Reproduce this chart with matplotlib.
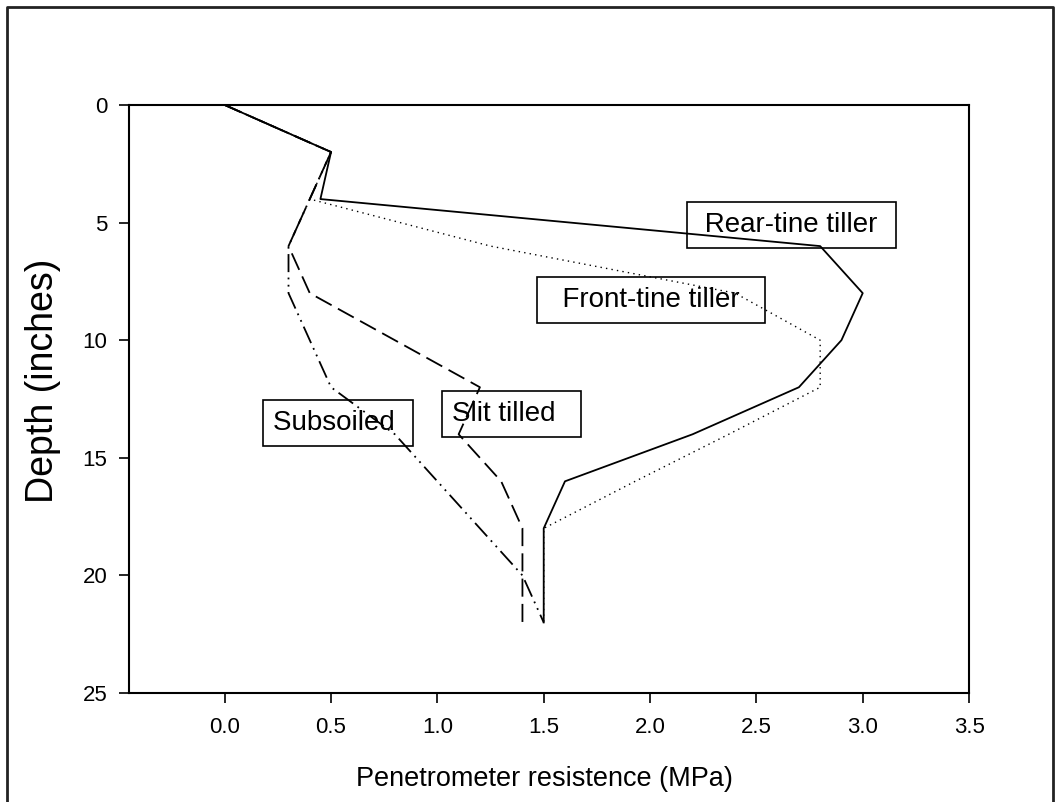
import matplotlib
matplotlib.use('Agg')
import matplotlib.pyplot as plt
from matplotlib.lines import Line2D

plt.rcParams['font.family'] = ['Liberation Sans', 'DejaVu Sans']

# depth in inches, resistance in MPa
depth = [0, 2, 4, 6, 8, 10, 12, 14, 16, 18, 20, 22]
rear_tine = [0.0, 0.5, 0.45, 2.8, 3.0, 2.9, 2.7, 2.2, 1.6, 1.5, 1.5, 1.5]
front_tine = [0.0, 0.5, 0.4, 1.25, 2.4, 2.8, 2.8, 2.37, 1.93, 1.5, 1.5, 1.5]
slit_tilled = [0.0, 0.5, 0.4, 0.3, 0.4, 0.8, 1.2, 1.1, 1.3, 1.4, 1.4, 1.4]
subsoiled = [0.0, 0.5, 0.4, 0.3, 0.3, 0.4, 0.5, 0.8, 1.0, 1.2, 1.4, 1.5]

x_ticks = [0.0, 0.5, 1.0, 1.5, 2.0, 2.5, 3.0, 3.5]
y_ticks = [0, 5, 10, 15, 20, 25]

fig = plt.figure(figsize=(10.6, 8.02), dpi=100)
ax = fig.add_axes([0.1217, 0.1359, 0.7925, 0.7332])

lw = 1.3
ax.plot(rear_tine, depth, color='black', lw=lw, ls='-')
ax.plot(front_tine, depth, color='black', lw=1.0, ls=(0, (1, 3)))
ax.plot(slit_tilled, depth, color='black', lw=lw, ls=(0, (10, 4)))
ax.plot(subsoiled, depth, color='black', lw=lw, ls=(0, (10, 3, 1, 3, 1, 3)))

ax.set_xlim(-0.45, 3.5)
ax.set_ylim(25, 0)
ax.set_xticks(x_ticks)
ax.set_xticklabels(['%.1f' % v for v in x_ticks])
ax.set_yticks(y_ticks)

for sp in ax.spines.values():
    sp.set_linewidth(1.5)
ax.tick_params(axis='both', direction='out', length=7, width=1.2, labelsize=16)
ax.tick_params(axis='x', pad=10)
ax.tick_params(axis='y', pad=8.5)

ax.set_xlabel('Penetrometer resistence (MPa)', fontsize=19.5)
ax.set_ylabel('Depth (inches)', fontsize=27)
ax.xaxis.set_label_coords(0.494, -0.124)
ax.yaxis.set_label_coords(-0.081, 0.531)

# label boxes are see-through, the curves show behind the text
box = dict(boxstyle='square,pad=0.36', facecolor='none', edgecolor='black', lw=1.2)
ax.text(2.223, 5.10, ' Rear-tine tiller ', fontsize=20, ha='left', va='center', bbox=box)
ax.text(1.517, 8.29, '  Front-tine tiller  ', fontsize=20, ha='left', va='center', bbox=box)
ax.text(1.070, 13.12, 'Slit tilled  ', fontsize=20, ha='left', va='center', bbox=box)
ax.text(0.229, 13.5, 'Subsoiled ', fontsize=20, ha='left', va='center', bbox=box)

# outer frame around the whole picture
fx = [7 / 1060, 7 / 1060, 1053 / 1060, 1053 / 1060]
fy = [0.0, 1 - 7 / 802, 1 - 7 / 802, 0.0]
fig.add_artist(Line2D(fx, fy, transform=fig.transFigure, color='#222222', lw=2))

plt.savefig('out.png', dpi=100)
